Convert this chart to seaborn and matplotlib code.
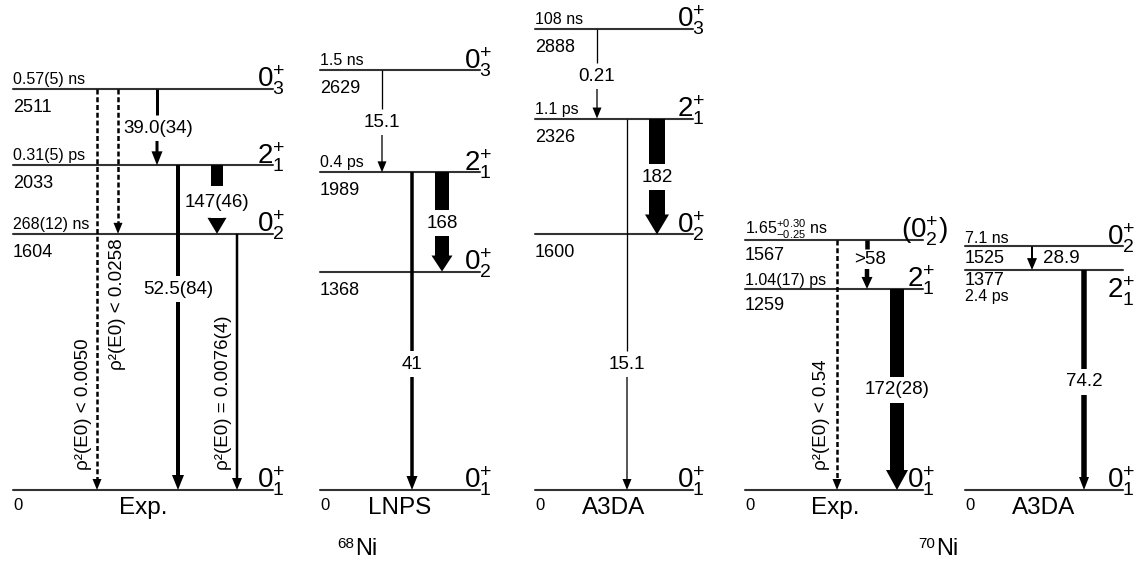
import matplotlib
matplotlib.use("Agg")
import matplotlib.pyplot as plt
import seaborn as sns
import pandas as pd

# ---------------- data ----------------
panel_titles = ["Exp.", "LNPS", "A3DA", "Exp.", "A3DA"]
nucleus_mass = ["68", "70"]
nucleus_symbol = ["Ni", "Ni"]

# level energies (keV), spins, lifetimes
exp68_E = [0, 1604, 2033, 2511]
exp68_spin = [r"$0^{+}_{1}$", r"$0^{+}_{2}$", r"$2^{+}_{1}$", r"$0^{+}_{3}$"]
exp68_life = ["", "268(12) ns", "0.31(5) ps", "0.57(5) ns"]

lnps68_E = [0, 1368, 1989, 2629]
lnps68_spin = [r"$0^{+}_{1}$", r"$0^{+}_{2}$", r"$2^{+}_{1}$", r"$0^{+}_{3}$"]
lnps68_life = ["", "", "0.4 ps", "1.5 ns"]

a3da68_E = [0, 1600, 2326, 2888]
a3da68_spin = [r"$0^{+}_{1}$", r"$0^{+}_{2}$", r"$2^{+}_{1}$", r"$0^{+}_{3}$"]
a3da68_life = ["", "", "1.1 ps", "108 ns"]

exp70_E = [0, 1259, 1567]
exp70_spin = [r"$0^{+}_{1}$", r"$2^{+}_{1}$", r"$(0^{+}_{2})$"]
exp70_life = ["", "1.04(17) ps", r"1.65$^{+0.30}_{-0.25}$ ns"]

a3da70_E = [0, 1377, 1525]
a3da70_spin = [r"$0^{+}_{1}$", r"$2^{+}_{1}$", r"$0^{+}_{2}$"]
a3da70_life = ["", "2.4 ps", "7.1 ns"]

# transitions: initial level, final level, label
exp68_from = [2511, 2511, 2511, 2033, 2033, 1604]
exp68_to = [0, 1604, 2033, 1604, 0, 0]
exp68_lab = ["ρ²(E0) < 0.0050", "ρ²(E0) < 0.0258", "39.0(34)", "147(46)",
             "52.5(84)", "ρ²(E0) = 0.0076(4)"]

lnps68_from = [2629, 1989, 1989]
lnps68_to = [1989, 1368, 0]
lnps68_lab = ["15.1", "168", "41"]

a3da68_from = [2888, 2326, 2326]
a3da68_to = [2326, 1600, 0]
a3da68_lab = ["0.21", "182", "15.1"]

exp70_from = [1567, 1567, 1259]
exp70_to = [0, 1259, 0]
exp70_lab = ["ρ²(E0) < 0.54", ">58", "172(28)"]

a3da70_from = [1525, 1377]
a3da70_to = [1377, 0]
a3da70_lab = ["28.9", "74.2"]

# ---------------- layout / style (pixels) ----------------
W, H = 1144, 566
S = 0.1597   # pixels per keV
Y0 = 490     # pixel row of 0 keV


def E_at(py):
    return (Y0 - py) / S


def dE(px):
    return px / S


schemes = [
    dict(E=exp68_E, spin=exp68_spin, life=exp68_life, fr=exp68_from, to=exp68_to, lab=exp68_lab,
         x0=13, x1=273, title_x=143,
         lvl=[dict(en=-20), {}, {}, {}],
         tr=[dict(x=97, dash=True, hw=9, hl=11, mode="rot", lx=84, ly=404),
             dict(x=118, dash=True, hw=9, hl=11, mode="rot", lx=118, ly=304),
             dict(x=157, w=3, hw=11, hl=14, mode="gap", ly=128, lx=158),
             dict(x=217, w=12, hw=19, hl=16, mode="gap", ly=202, g=16),
             dict(x=178, w=4, hw=12, hl=15, mode="gap", ly=289),
             dict(x=237, w=2.5, hw=10, hl=12, mode="rot", lx=223, ly=393)]),
    dict(E=lnps68_E, spin=lnps68_spin, life=lnps68_life, fr=lnps68_from, to=lnps68_to, lab=lnps68_lab,
         x0=320, x1=480, title_x=400,
         lvl=[dict(en=-20), {}, {}, {}],
         tr=[dict(x=382, w=1.3, hw=9, hl=11, mode="gap", ly=122),
             dict(x=442, w=14, hw=21, hl=16, mode="gap", ly=223),
             dict(x=412, w=3.5, hw=11, hl=14, mode="gap", ly=364)]),
    dict(E=a3da68_E, spin=a3da68_spin, life=a3da68_life, fr=a3da68_from, to=a3da68_to, lab=a3da68_lab,
         x0=535, x1=693, title_x=614,
         lvl=[dict(en=-20), {}, {}, {}],
         tr=[dict(x=597, w=1.3, hw=9, hl=11, mode="gap", ly=76),
             dict(x=657, w=16, hw=24, hl=20, mode="gap", ly=177),
             dict(x=627, w=1.3, hw=9, hl=11, mode="gap", ly=364)]),
    dict(E=exp70_E, spin=exp70_spin, life=exp70_life, fr=exp70_from, to=exp70_to, lab=exp70_lab,
         x0=745, x1=923, title_x=835,
         lvl=[dict(en=-20), dict(en=-21, life=4), dict(en=-20, life=5, sx=25)],
         tr=[dict(x=837, dash=True, hw=9, hl=11, mode="rot", lx=822, ly=415),
             dict(x=867, w=4.5, hw=11, hl=12, mode="gap", ly=259, lx=870, g=10),
             dict(x=897, w=14, hw=22, hl=20, mode="gap", ly=390)]),
    dict(E=a3da70_E, spin=a3da70_spin, life=a3da70_life, fr=a3da70_from, to=a3da70_to, lab=a3da70_lab,
         x0=965, x1=1123, title_x=1044,
         lvl=[dict(en=-20), dict(en=-15, life=-31, sp=-28), dict(en=-17, life=3)],
         tr=[dict(x=1032, w=2, hw=10, hl=12, mode="side", lx=1061, ly=258),
             dict(x=1084, w=5.5, hw=10, hl=13, mode="gap", ly=382)]),
]
nuc_x = [355, 936]
nuc_base = 555

# ---------------- drawing ----------------
sns.set_theme(style="white")
plt.rcParams["font.family"] = ["Liberation Sans", "DejaVu Sans"]
plt.rcParams["mathtext.fontset"] = "custom"
plt.rcParams["mathtext.rm"] = "Liberation Sans"
plt.rcParams["mathtext.it"] = "Liberation Sans:italic"
plt.rcParams["mathtext.bf"] = "Liberation Sans:bold"
plt.rcParams["mathtext.sf"] = "Liberation Sans"
plt.rcParams["mathtext.default"] = "regular"

fig = plt.figure(figsize=(W / 100, H / 100), dpi=100)
ax = fig.add_axes([0, 0, 1, 1])

# level lines through seaborn
rows = []
lid = 0
for sc in schemes:
    for e in sc["E"]:
        rows.append(dict(x=sc["x0"], E=e, lid=lid))
        rows.append(dict(x=sc["x1"], E=e, lid=lid))
        lid += 1
df = pd.DataFrame(rows)
sns.lineplot(data=df, x="x", y="E", units="lid", estimator=None, sort=False,
             color="#333333", linewidth=1.5, legend=False, ax=ax)

LVL_FS = 13
LIFE_FS = 11.5
SPIN_FS = 20
TR_FS = 13.5
PT_PER_PX = 0.72

for k, sc in enumerate(schemes):
    x0, x1 = sc["x0"], sc["x1"]
    for i, e in enumerate(sc["E"]):
        st = sc["lvl"][i]
        ax.text(x0, e + dE(st.get("en", -23)), f"{e}", ha="left", va="baseline",
                fontsize=LVL_FS if e else 12, color="black")
        if sc["life"][i]:
            ax.text(x0, e + dE(st.get("life", 5)), sc["life"][i], ha="left", va="baseline",
                    fontsize=LIFE_FS, color="black")
        ax.text(x1 + st.get("sx", 12), e + dE(st.get("sp", 1)), sc["spin"][i],
                ha="right", va="baseline", fontsize=SPIN_FS, color="black")
    for j, (eu, el) in enumerate(zip(sc["fr"], sc["to"])):
        st = sc["tr"][j]
        x = st["x"]
        hl = dE(st["hl"])
        lab = sc["lab"][j]
        if st.get("dash"):
            ax.plot([x, x], [eu, el + hl], color="black", lw=1.8, dashes=(2.0, 1.1),
                    solid_capstyle="butt", zorder=3)
            ax.arrow(x, el + hl, 0, -hl, width=0.0, head_width=st["hw"], head_length=hl,
                     length_includes_head=True, fc="black", ec="none", lw=0, zorder=3)
        elif st["mode"] == "gap":
            g = dE(st.get("g", 13))
            ey = E_at(st["ly"])
            # upper shaft piece
            ax.plot([x, x], [eu, ey + g], color="black", lw=st["w"] * PT_PER_PX,
                    solid_capstyle="butt", zorder=3)
            # lower piece with head
            ax.arrow(x, ey - g, 0, el - (ey - g), width=st["w"], head_width=st["hw"],
                     head_length=hl, length_includes_head=True, fc="black", ec="none",
                     lw=0, zorder=3)
        else:
            ax.arrow(x, eu, 0, el - eu, width=st["w"], head_width=st["hw"], head_length=hl,
                     length_includes_head=True, fc="black", ec="none", lw=0, zorder=3)
        if st["mode"] == "gap":
            ax.text(st.get("lx", x), E_at(st["ly"]), lab, ha="center", va="center",
                    fontsize=TR_FS, color="black", zorder=5)
        elif st["mode"] == "rot":
            ax.text(st["lx"], E_at(st["ly"]), lab, ha="center", va="center", rotation=90,
                    fontsize=TR_FS, color="black", zorder=5)
        else:
            ax.text(st["lx"], E_at(st["ly"]), lab, ha="center", va="center",
                    fontsize=TR_FS, color="black", zorder=5)
    ax.text(sc["title_x"], E_at(508), panel_titles[k], ha="center",
            va="center", fontsize=17.5, color="black")

for nx, m, sym in zip(nuc_x, nucleus_mass, nucleus_symbol):
    ax.text(nx, E_at(nuc_base), sym, ha="left", va="baseline", fontsize=17, color="black")
    ax.text(nx - 1, E_at(nuc_base - 7), m, ha="right", va="baseline", fontsize=11,
            color="black")

ax.set_xlim(0, W)
ax.set_ylim(E_at(H), E_at(0))
ax.set_axis_off()
fig.savefig("out.png", dpi=100, facecolor="white")
